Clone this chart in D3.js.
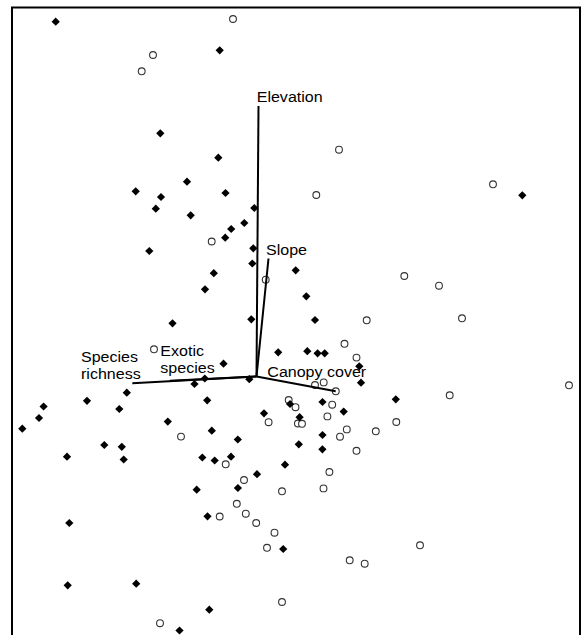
<!DOCTYPE html>
<html>
<head>
<meta charset="utf-8">
<script src="https://cdn.jsdelivr.net/npm/d3@7"></script>
<style>
  html, body { margin: 0; padding: 0; background: #fff; }
  svg { display: block; }
</style>
</head>
<body>
<div id="chart"></div>
<script>
// Ordination scores: plots of group A (filled diamonds), axis 1 / axis 2
const groupAx = [-2.008,-0.368,-0.962,-0.382,-0.695,-1.208,-0.955,-0.310,-1.007,-0.658,
  -0.022,-0.122,-0.253,-0.313,-1.072,-0.032,-0.042,0.392,-0.427,-0.515,
  0.498,-0.840,-0.052,0.585,0.217,0.508,0.611,0.682,-0.330,1.028,
  1.045,-0.072,-0.517,-0.620,-1.297,-1.695,-2.129,-1.372,-2.175,-2.342,
  -0.887,-0.493,0.075,0.335,0.660,0.872,1.393,0.431,0.660,0.423,
  0.659,-0.447,-0.187,-1.522,-1.347,-1.895,-1.328,-0.542,-0.418,-0.255,
  0.285,0.005,-0.598,-0.186,-0.490,-1.872,0.267,-1.888,-1.203,-0.472,
  -0.770,2.658];
const groupAy = [3.548,3.262,2.432,2.188,1.948,1.852,1.795,1.835,1.678,1.612,
  1.685,1.535,1.475,1.388,1.255,1.282,1.130,1.062,1.033,0.872,
  0.802,0.532,0.572,0.565,0.242,0.253,0.232,0.232,0.128,0.102,
  -0.062,-0.027,-0.020,-0.075,-0.162,-0.243,-0.300,-0.325,-0.415,-0.522,
  -0.451,-0.238,-0.368,-0.275,-0.255,-0.351,-0.228,-0.407,-0.585,-0.678,
  -0.728,-0.542,-0.630,-0.685,-0.703,-0.802,-0.830,-0.810,-0.840,-0.802,
  -0.882,-0.977,-1.132,-1.115,-1.398,-1.465,-1.725,-2.088,-2.072,-2.332,
  -2.540,1.812];

// Ordination scores: plots of group B (open circles)
const groupBx = [-0.235,-1.035,-1.148,0.825,0.598,2.365,-0.448,0.092,1.478,1.825,
  1.102,2.055,-1.025,0.880,1.000,3.125,1.932,0.585,0.672,0.793,
  0.322,0.390,0.757,0.709,0.121,0.414,0.455,0.903,0.835,1.193,
  1.398,1.000,-0.755,-0.308,-0.125,0.255,0.729,0.670,-0.197,-0.107,
  -0.003,-0.368,0.180,0.105,1.635,0.932,1.082,0.255,-0.965];
const groupBy = [3.575,3.215,3.052,2.268,1.815,1.922,1.350,0.968,1.005,0.908,
  0.562,0.582,0.272,0.327,0.189,-0.088,-0.188,-0.085,-0.059,-0.148,
  -0.235,-0.307,-0.282,-0.399,-0.457,-0.470,-0.473,-0.529,-0.602,-0.548,
  -0.455,-0.743,-0.601,-0.878,-1.035,-1.148,-0.955,-1.119,-1.273,-1.372,
  -1.465,-1.400,-1.562,-1.713,-1.688,-1.838,-1.872,-2.255,-2.467];

// Environmental vectors (biplot arrows from the origin)
const vectorNames = ["Elevation", "Slope", "Canopy cover", "Species richness", "Exotic species"];
const vectorX = [0.020, 0.120, 0.792, -1.242, -0.865];
const vectorY = [2.705, 1.180, -0.148, -0.068, -0.042];

// Plot extent in ordination units
const xExtent = [-2.445, 3.235];
const yExtent = [3.69, -2.635];

const W = 584, H = 635;
const frame = { left: 12, top: 7.5, right: 580, bottom: 640 };

const svg = d3.select("#chart").append("svg")
  .attr("width", W).attr("height", H);

const x = d3.scaleLinear().domain(xExtent).range([frame.left, frame.right]);
const y = d3.scaleLinear().domain(yExtent).range([frame.top, frame.bottom]);

// Frame around the ordination space
svg.append("rect")
  .attr("x", frame.left).attr("y", frame.top)
  .attr("width", frame.right - frame.left)
  .attr("height", frame.bottom - frame.top + 10)
  .attr("fill", "none").attr("stroke", "#000").attr("stroke-width", 2);

const groupA = groupAx.map((v, i) => ({ x: v, y: groupAy[i] }));
const groupB = groupBx.map((v, i) => ({ x: v, y: groupBy[i] }));

const diamond = d3.symbol().type(d3.symbolSquare).size(34);

svg.append("g").selectAll("circle")
  .data(groupB).join("circle")
  .attr("cx", d => x(d.x)).attr("cy", d => y(d.y))
  .attr("r", 3.4)
  .attr("fill", "#fff").attr("stroke", "#333").attr("stroke-width", 1.1);

svg.append("g").selectAll("path")
  .data(groupA).join("path")
  .attr("d", diamond)
  .attr("transform", d => `translate(${x(d.x)},${y(d.y)}) rotate(45)`)
  .attr("fill", "#000");

// Vector labels: offsets (px) of the first line's start from the arrow tip
const labelLayout = {
  "Elevation":        { dx: -1.8, dy: -4.5, lines: ["Elevation"] },
  "Slope":            { dx: -2.5, dy: -3.5, lines: ["Slope"] },
  "Canopy cover":     { dx: -68.4, dy: -14.6, lines: ["Canopy cover"] },
  "Species richness": { dx: -51.3, dy: -21.6, lines: ["Species", "richness"] },
  "Exotic species":   { dx: -9.7, dy: -24.8, lines: ["Exotic", "species"] }
};

const vectors = vectorNames.map((n, i) => ({ name: n, x: vectorX[i], y: vectorY[i] }));

const labels = svg.append("g")
  .attr("font-family", "'Liberation Sans', Arial, Helvetica, sans-serif")
  .attr("font-size", 15)
  .attr("fill", "#000");

vectors.forEach(v => {
  const L = labelLayout[v.name];
  const t = labels.append("text")
    .attr("transform", `translate(${x(v.x) + L.dx},${y(v.y) + L.dy}) scale(1.07,1)`);
  L.lines.forEach((line, i) => {
    t.append("tspan").attr("x", 0).attr("y", i * 17.6).text(line);
  });
});

svg.append("g").selectAll("line")
  .data(vectors).join("line")
  .attr("x1", x(0)).attr("y1", y(0))
  .attr("x2", d => x(d.x)).attr("y2", d => y(d.y))
  .attr("stroke", "#000").attr("stroke-width", 2);
</script>
</body>
</html>
